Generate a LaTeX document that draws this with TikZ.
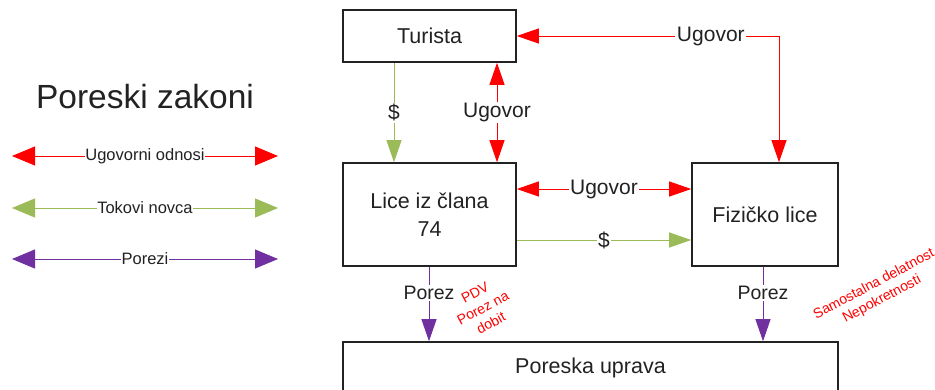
\documentclass[tikz,border=0pt]{standalone}
\usepackage{fontspec}
\setmainfont{Liberation Sans}
\usetikzlibrary{arrows.meta,calc}
\definecolor{rd}{HTML}{FF0000}
\definecolor{gr}{HTML}{9BBB59}
\definecolor{pu}{HTML}{7030A0}
\definecolor{tx}{HTML}{222222}
\tikzset{
  boxn/.style={draw=tx,line width=1.6pt,text=tx,inner sep=0pt,align=center,font=\fontsize{21.5}{28}\selectfont},
  lbl/.style={fill=white,inner sep=1.5pt,text=tx},
  clbl/.style={lbl,font=\fontsize{21}{24}\selectfont},
  plbl/.style={lbl,font=\fontsize{19.5}{22}\selectfont},
  leglbl/.style={lbl,inner sep=0.5pt,font=\fontsize{16.5}{20}\selectfont},
  redarr/.style={draw=rd,line width=0.9pt,{Triangle[length=22pt,width=15pt]}-{Triangle[length=22pt,width=15pt]}},
  grarr/.style={draw=gr,line width=0.9pt,-{Triangle[length=22pt,width=15pt]}},
  puarr/.style={draw=pu,line width=0.9pt,-{Triangle[length=22pt,width=15pt]}},
  legarr/.style={line width=0.9pt,{Triangle[length=23pt,width=19pt]}-{Triangle[length=23pt,width=19pt]}},
  note/.style={text=rd,align=center,rotate=28,inner sep=0pt,font=\fontsize{14}{17}\selectfont}
}
\begin{document}
\begin{tikzpicture}[x=1pt,y=-1pt]
\useasboundingbox (0,0) rectangle (935,389);
\clip (0,0) rectangle (935,389);
% title
\node[text=tx,font=\fontsize{33.5}{38}\selectfont] (title) at (145,97) {Poreski zakoni};
% legend
\coordinate (l1a) at (12,156); \coordinate (l1b) at (278,156);
\coordinate (l2a) at (12,208); \coordinate (l2b) at (278,208);
\coordinate (l3a) at (12,259); \coordinate (l3b) at (278,259);
\draw[legarr,draw=rd] (l1a) -- node[leglbl] (lg1) {Ugovorni odnosi} (l1b);
\draw[legarr,draw=gr] (l2a) -- node[leglbl] (lg2) {Tokovi novca} (l2b);
\draw[legarr,draw=pu] (l3a) -- node[leglbl] (lg3) {Porezi} (l3b);
% boxes
\node[boxn,minimum width=173pt,minimum height=52pt] (tur) at (429.5,36) {Turista};
\node[boxn,minimum width=173pt,minimum height=103pt] (lice) at (429.5,214.5) {Lice iz člana\\74};
\node[boxn,minimum width=146pt,minimum height=103pt] (fiz) at (765,214.5) {Fizičko lice};
\node[boxn,minimum width=495pt,minimum height=52pt] (pu) at (590.5,368) {Poreska uprava};
% helper coordinates
\coordinate (xg) at (394,0);
\coordinate (xr) at (497,0);
\coordinate (xc) at (779,36);
\coordinate (yu) at (0,189);
\coordinate (yd) at (0,240);
\coordinate (xp1) at (429,0);
\coordinate (xp2) at (763,0);
% connectors
\draw[grarr] (tur.south -| xg) -- node[clbl] (d1) {\$} (lice.north -| xg);
\draw[redarr] (tur.south -| xr) -- node[clbl] (u1) {Ugovor} (lice.north -| xr);
\draw[redarr] (tur.east |- xc) -- node[clbl,pos=0.74] (u2) {Ugovor} (xc) -- (fiz.north -| xc);
\draw[redarr] (lice.east |- yu) -- node[clbl] (u3) {Ugovor} (fiz.west |- yu);
\draw[grarr] (lice.east |- yd) -- node[clbl] (d2) {\$} (fiz.west |- yd);
\draw[puarr] (lice.south -| xp1) -- node[plbl,pos=0.35] (p1) {Porez} (pu.north -| xp1);
\draw[puarr] (fiz.south -| xp2) -- node[plbl,pos=0.35] (p2) {Porez} (pu.north -| xp2);
% notes
\node[note] (n1) at (483,308) {PDV\\Porez na\\dobit};
\node[note] (n2) at (878,292) {Samostalna delatnost\\Nepokretnosti};
\end{tikzpicture}
\end{document}
